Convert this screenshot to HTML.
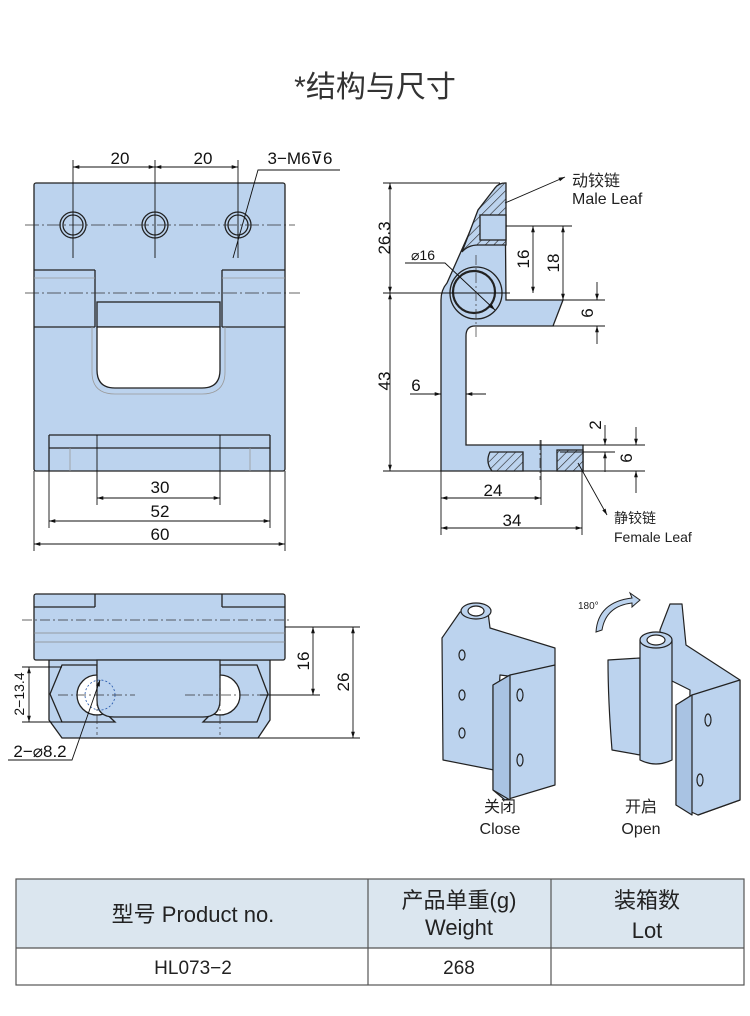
<!DOCTYPE html>
<html><head><meta charset="utf-8"><style>
html,body{margin:0;padding:0;background:#fff;}
svg{display:block;font-family:"Liberation Sans","Noto Sans CJK SC",sans-serif;}
</style></head><body>
<svg width="750" height="1016" viewBox="0 0 750 1016" xmlns="http://www.w3.org/2000/svg">
<defs>
<pattern id="h" width="6" height="6" patternUnits="userSpaceOnUse" patternTransform="rotate(45)">
<rect width="6" height="6" fill="#bcd3ee"/><line x1="0" y1="0" x2="0" y2="6" stroke="#222" stroke-width="1.2"/></pattern>
<marker id="a" viewBox="0 0 10 10" refX="10" refY="5" markerWidth="9" markerHeight="7" orient="auto-start-reverse"><path d="M0,2 L10,5 L0,8z" fill="#111"/></marker>
</defs>
<text x="375" y="97" font-size="30" text-anchor="middle" fill="#333">*结构与尺寸</text>

<!-- FRONT VIEW -->
<g stroke="#222" stroke-width="1.3" fill="#bcd3ee">
<rect x="34" y="183" width="251" height="288" rx="2"/>
<line x1="34" y1="270" x2="95" y2="270"/><line x1="222" y1="270" x2="285" y2="270"/>
<line x1="34" y1="327" x2="95" y2="327"/><line x1="222" y1="327" x2="285" y2="327"/>
<line x1="95" y1="270" x2="95" y2="327"/><line x1="222" y1="270" x2="222" y2="327"/>
<rect x="97" y="302" width="123" height="25"/>
<path d="M97,327 L97,370 Q97,388 115,388 L202,388 Q220,388 220,370 L220,327z" fill="#fff"/>
<line x1="49" y1="435" x2="270" y2="435"/><line x1="49" y1="448" x2="270" y2="448"/>
<line x1="49" y1="435" x2="49" y2="471"/><line x1="270" y1="435" x2="270" y2="471"/>
<circle cx="73" cy="225" r="13"/><circle cx="73" cy="225" r="10"/>
<circle cx="155" cy="225" r="13"/><circle cx="155" cy="225" r="10"/>
<circle cx="238" cy="225" r="13"/><circle cx="238" cy="225" r="10"/>
</g>
<g stroke="#999" stroke-width="0.8" fill="none">
<line x1="34" y1="278" x2="95" y2="278"/><line x1="222" y1="278" x2="285" y2="278"/>
<path d="M92,327 L92,372 Q92,394 115,394 L202,394 Q225,394 225,372 L225,327"/>
<line x1="70" y1="448" x2="70" y2="471"/><line x1="250" y1="448" x2="250" y2="471"/>
</g>
<g stroke="#333" stroke-width="0.8" stroke-dasharray="14,3,2,3" fill="none">
<line x1="25" y1="225" x2="295" y2="225"/><line x1="25" y1="293" x2="300" y2="293"/>
</g>
<g stroke="#111" stroke-width="0.9" fill="none">
<line x1="73" y1="160" x2="73" y2="258"/><line x1="155" y1="160" x2="155" y2="258"/><line x1="238" y1="160" x2="238" y2="258"/>
<line x1="73" y1="167" x2="155" y2="167" marker-start="url(#a)" marker-end="url(#a)"/>
<line x1="155" y1="167" x2="238" y2="167" marker-start="url(#a)" marker-end="url(#a)"/>
<polyline points="340,170 258,170 233,258"/>
<line x1="97" y1="435" x2="97" y2="505"/><line x1="220" y1="435" x2="220" y2="505"/>
<line x1="49" y1="471" x2="49" y2="528"/><line x1="270" y1="471" x2="270" y2="528"/>
<line x1="34" y1="471" x2="34" y2="551"/><line x1="285" y1="471" x2="285" y2="551"/>
<line x1="97" y1="498" x2="220" y2="498" marker-start="url(#a)" marker-end="url(#a)"/>
<line x1="49" y1="521" x2="270" y2="521" marker-start="url(#a)" marker-end="url(#a)"/>
<line x1="34" y1="544" x2="285" y2="544" marker-start="url(#a)" marker-end="url(#a)"/>
</g>
<g font-size="17" fill="#111" text-anchor="middle">
<text x="120" y="164">20</text><text x="203" y="164">20</text>
<text x="300" y="164">3−M6⊽6</text>
<text x="160" y="493">30</text><text x="160" y="517">52</text><text x="160" y="540">60</text>
</g>

<!-- SIDE VIEW -->
<g stroke="#222" stroke-width="1.3">
<path d="M441,471 L441,300 Q441,290 447,283 L475,220 L495,188 Q499,183 505,183 L506,300 L563,300 L553,326 L475,326 Q466,326 466,336 L466,445 L583,445 L583,471z" fill="#bcd3ee"/>
<path d="M505,183 Q499,183 495,188 L478,210 L462,252 Q468,245 478,245 L506,245 L506,183z" fill="url(#h)"/>
<rect x="480" y="215" width="26" height="25" fill="#bcd3ee"/>
<path d="M490,452 L523,452 L523,471 L492,471 Q485,462 490,452z" fill="url(#h)"/>
<rect x="557" y="450" width="26" height="21" fill="url(#h)"/>
<circle cx="476" cy="293" r="26" fill="#bcd3ee"/>
<circle cx="474" cy="292" r="21" fill="#bcd3ee" stroke-width="2.2"/>
</g>
<g stroke="#111" stroke-width="0.9" fill="none">
<line x1="383" y1="183" x2="500" y2="183"/><line x1="383" y1="293" x2="510" y2="293"/><line x1="383" y1="471" x2="441" y2="471"/>
<line x1="390" y1="183" x2="390" y2="293" marker-start="url(#a)" marker-end="url(#a)"/>
<line x1="390" y1="293" x2="390" y2="471" marker-start="url(#a)" marker-end="url(#a)"/>
<line x1="506" y1="226" x2="572" y2="226"/><line x1="563" y1="300" x2="605" y2="300"/><line x1="553" y1="326" x2="605" y2="326"/>
<line x1="533" y1="226" x2="533" y2="293" marker-start="url(#a)" marker-end="url(#a)"/>
<line x1="563" y1="226" x2="563" y2="300" marker-start="url(#a)" marker-end="url(#a)"/>
<line x1="597" y1="282" x2="597" y2="300" marker-end="url(#a)"/><line x1="597" y1="344" x2="597" y2="326" marker-end="url(#a)"/>
<line x1="583" y1="445" x2="645" y2="445"/><line x1="560" y1="452" x2="615" y2="452"/><line x1="583" y1="471" x2="645" y2="471"/>
<line x1="605" y1="425" x2="605" y2="445" marker-end="url(#a)"/><line x1="605" y1="472" x2="605" y2="452" marker-end="url(#a)"/>
<line x1="636" y1="427" x2="636" y2="445" marker-end="url(#a)"/><line x1="636" y1="493" x2="636" y2="471" marker-end="url(#a)"/>
<line x1="410" y1="394" x2="441" y2="394" marker-end="url(#a)"/><line x1="486" y1="394" x2="466" y2="394" marker-end="url(#a)"/>
<line x1="441" y1="471" x2="441" y2="535"/><line x1="541" y1="440" x2="541" y2="505"/><line x1="582" y1="471" x2="582" y2="535"/>
<line x1="441" y1="498" x2="541" y2="498" marker-start="url(#a)" marker-end="url(#a)"/>
<line x1="441" y1="528" x2="582" y2="528" marker-start="url(#a)" marker-end="url(#a)"/>
<polyline points="405,263 445,263 495,310" marker-end="url(#a)"/>
<line x1="505" y1="203" x2="565" y2="177" marker-end="url(#a)"/>
<line x1="578" y1="463" x2="607" y2="515" marker-end="url(#a)"/>
</g>
<g stroke="#333" stroke-width="0.7" stroke-dasharray="10,3,2,3" fill="none">
<line x1="476" y1="255" x2="476" y2="340"/><line x1="540" y1="440" x2="540" y2="480"/>
</g>
<g font-size="17" fill="#111" text-anchor="middle">
<text transform="translate(390,238) rotate(-90)">26.3</text>
<text transform="translate(390,381) rotate(-90)">43</text>
<text transform="translate(529,259) rotate(-90)">16</text>
<text transform="translate(559,263) rotate(-90)">18</text>
<text transform="translate(593,313) rotate(-90)">6</text>
<text transform="translate(601,425) rotate(-90)">2</text>
<text transform="translate(632,458) rotate(-90)">6</text>
<text x="416" y="391">6</text>
<text x="493" y="496">24</text><text x="512" y="526">34</text>
<text x="423" y="260" font-size="14">⌀16</text>
</g>
<g font-size="16" fill="#222">
<text x="572" y="186">动铰链</text><text x="572" y="204">Male Leaf</text>
<text x="614" y="523" font-size="14">静铰链</text><text x="614" y="542" font-size="14">Female Leaf</text>
</g>

<!-- BOTTOM VIEW -->
<g stroke="#222" stroke-width="1.3" fill="#bcd3ee">
<path d="M49,660 L49,720 L62,738 L258,738 L270,720 L270,660z"/>
<rect x="34" y="594" width="251" height="66" rx="2"/>
<path d="M62,665 L97,665 L97,705 L115,722 L62,722 L50,694z" fill="#bcd3ee"/>
<path d="M257,665 L220,665 L220,705 L203,722 L257,722 L268,694z" fill="#bcd3ee"/>
<circle cx="97" cy="695" r="20" fill="#fff"/><circle cx="220" cy="695" r="20" fill="#fff"/>
<path d="M97,660 L97,700 Q97,717 114,717 L203,717 Q220,717 220,700 L220,660z"/>
<line x1="34" y1="607" x2="95" y2="607"/><line x1="222" y1="607" x2="285" y2="607"/>
<line x1="95" y1="594" x2="95" y2="607"/><line x1="222" y1="594" x2="222" y2="607"/>
</g>
<g stroke="#888" stroke-width="0.8" fill="none"><line x1="34" y1="633" x2="285" y2="633"/><line x1="34" y1="642" x2="285" y2="642"/></g>
<circle cx="100" cy="695" r="15" fill="none" stroke="#2255aa" stroke-width="0.8" stroke-dasharray="2,2"/>
<g stroke="#333" stroke-width="0.7" stroke-dasharray="10,3,2,3" fill="none">
<line x1="22" y1="620" x2="292" y2="620"/><line x1="58" y1="695" x2="135" y2="695"/><line x1="185" y1="695" x2="260" y2="695"/>
<line x1="97" y1="660" x2="97" y2="735"/><line x1="220" y1="660" x2="220" y2="735"/>
</g>
<g stroke="#111" stroke-width="0.9" fill="none">
<line x1="285" y1="627" x2="360" y2="627"/><line x1="260" y1="695" x2="320" y2="695"/><line x1="258" y1="738" x2="360" y2="738"/>
<line x1="313" y1="627" x2="313" y2="695" marker-start="url(#a)" marker-end="url(#a)"/>
<line x1="353" y1="627" x2="353" y2="738" marker-start="url(#a)" marker-end="url(#a)"/>
<line x1="22" y1="667" x2="62" y2="667"/><line x1="22" y1="722" x2="62" y2="722"/>
<line x1="29" y1="667" x2="29" y2="722" marker-start="url(#a)" marker-end="url(#a)"/>
<polyline points="8,760 72,760 100,680" marker-end="url(#a)"/>
</g>
<g font-size="17" fill="#111" text-anchor="middle">
<text transform="translate(309,661) rotate(-90)">16</text>
<text transform="translate(349,682) rotate(-90)">26</text>
<text transform="translate(24,694) rotate(-90)" font-size="14">2−13.4</text>
<text x="40" y="757">2−⌀8.2</text>
</g>

<!-- 3D ISO VIEWS -->
<g stroke="#222" stroke-width="1.2" fill="#bcd3ee" stroke-linejoin="round">
<path d="M442,638 L460,612 L488,612 L490,628 L555,648 L555,665 L540,680 L500,675 L494,770 L443,760z"/>
<ellipse cx="476" cy="611" rx="15" ry="8"/><ellipse cx="476" cy="611" rx="8" ry="5" fill="#fff"/>
<path d="M493,685 L510,675 L555,665 L555,785 L505,800 L493,790z"/>
<path d="M493,685 L510,675 L510,800 L493,790z" fill="#a9c3e3"/>
<ellipse cx="462" cy="655" rx="3" ry="5"/><ellipse cx="462" cy="695" rx="3" ry="5"/><ellipse cx="462" cy="733" rx="3" ry="5"/>
<ellipse cx="520" cy="695" rx="3" ry="6"/><ellipse cx="520" cy="760" rx="3" ry="6"/>
<path d="M608,660 L640,658 L640,755 L612,750 Q608,700 608,660z"/>
<path d="M660,630 L670,604 L682,604 L686,645 L740,680 L740,800 L698,815 L688,800 L690,690 L660,675z"/>
<path d="M640,640 L672,640 L672,760 Q656,768 640,760z"/>
<ellipse cx="656" cy="640" rx="16" ry="8"/><ellipse cx="656" cy="640" rx="9" ry="5" fill="#fff"/>
<path d="M676,705 L692,695 L740,680 L740,800 L698,815 L676,805z"/>
<path d="M676,705 L692,695 L692,815 L676,805z" fill="#a9c3e3"/>
<ellipse cx="708" cy="720" rx="3" ry="6"/><ellipse cx="700" cy="780" rx="3" ry="6"/>
</g>
<path d="M596,632 Q598,602 632,598 L630,593 L640,600 L632,607 L632,603 Q606,606 602,630z" fill="#bcd3ee" stroke="#222" stroke-width="1"/>
<text x="578" y="609" font-size="10" fill="#222">180°</text>
<g font-size="16" fill="#222" text-anchor="middle">
<text x="500" y="812">关闭</text><text x="500" y="834">Close</text>
<text x="641" y="812">开启</text><text x="641" y="834">Open</text>
</g>

<!-- TABLE -->
<rect x="16" y="879" width="728" height="69" fill="#dbe6ef"/>
<g stroke="#555" stroke-width="1.2" fill="none">
<rect x="16" y="879" width="728" height="106"/>
<line x1="16" y1="948" x2="744" y2="948"/>
<line x1="368" y1="879" x2="368" y2="985"/><line x1="551" y1="879" x2="551" y2="985"/>
</g>
<g font-size="22" fill="#222" text-anchor="middle">
<text x="193" y="922">型号 Product no.</text>
<text x="459" y="908">产品单重(g)</text><text x="459" y="935">Weight</text>
<text x="647" y="908">装箱数</text><text x="647" y="938">Lot</text>
<text x="193" y="974" font-size="19">HL073−2</text>
<text x="459" y="974" font-size="19">268</text>
</g>
</svg>
</body></html>
